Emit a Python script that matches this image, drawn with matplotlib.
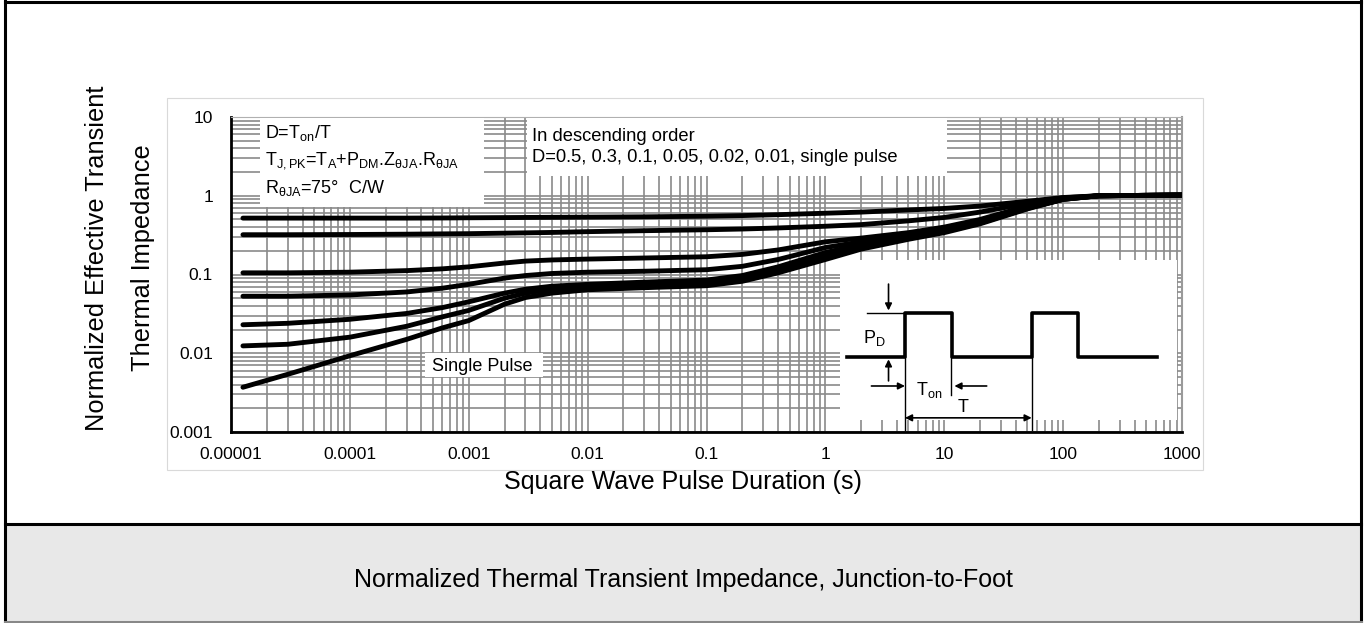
import numpy as np
import matplotlib.pyplot as plt
from matplotlib.patches import Rectangle
from matplotlib.lines import Line2D
from matplotlib.ticker import FixedLocator, LogLocator, NullFormatter

plt.rcParams['font.family'] = ['Liberation Sans', 'DejaVu Sans']
plt.rcParams['mathtext.fontset'] = 'custom'
plt.rcParams['mathtext.rm'] = 'Liberation Sans'
plt.rcParams['mathtext.it'] = 'Liberation Sans:italic'
plt.rcParams['mathtext.default'] = 'regular'

pulse_t = [1.26e-5, 3e-5, 1e-4, 3e-4, 6e-4, 1e-3, 2e-3, 3e-3, 5e-3, 1e-2, 3e-2, 0.1, 0.2, 0.4,
           1, 2, 5, 10, 20, 50, 100, 200, 1000]

# normalized transient impedance, one list per duty cycle (descending order)
z_d050 = [0.52, 0.52, 0.52, 0.52, 0.522, 0.525, 0.528, 0.53, 0.532, 0.535, 0.54, 0.55, 0.56, 0.575,
          0.60, 0.62, 0.66, 0.69, 0.74, 0.85, 0.95, 1.0, 1.02]
z_d030 = [0.32, 0.32, 0.322, 0.325, 0.328, 0.33, 0.335, 0.338, 0.342, 0.35, 0.36, 0.37, 0.378, 0.39,
          0.41, 0.43, 0.48, 0.53, 0.62, 0.80, 0.94, 1.0, 1.02]
z_d010 = [0.105, 0.105, 0.107, 0.112, 0.118, 0.125, 0.14, 0.148, 0.153, 0.157, 0.162, 0.168, 0.18, 0.205,
          0.26, 0.29, 0.34, 0.40, 0.50, 0.74, 0.92, 1.0, 1.02]
z_d005 = [0.053, 0.053, 0.055, 0.06, 0.067, 0.075, 0.09, 0.097, 0.103, 0.107, 0.11, 0.115, 0.127, 0.155,
          0.22, 0.26, 0.32, 0.38, 0.48, 0.72, 0.91, 1.0, 1.02]
z_d002 = [0.023, 0.024, 0.027, 0.032, 0.038, 0.045, 0.058, 0.065, 0.071, 0.075, 0.08, 0.085, 0.097, 0.125,
          0.19, 0.24, 0.30, 0.36, 0.46, 0.70, 0.90, 1.0, 1.02]
z_d001 = [0.0124, 0.013, 0.016, 0.022, 0.029, 0.035, 0.05, 0.058, 0.065, 0.07, 0.074, 0.078, 0.09, 0.115,
          0.17, 0.225, 0.29, 0.35, 0.45, 0.69, 0.90, 1.0, 1.02]
z_single = [0.0037, 0.0054, 0.0093, 0.015, 0.021, 0.026, 0.042, 0.051, 0.058, 0.064, 0.068, 0.072, 0.082, 0.105,
            0.155, 0.21, 0.28, 0.34, 0.44, 0.68, 0.90, 1.0, 1.02]

x_ticks = [1e-5, 1e-4, 1e-3, 1e-2, 1e-1, 1, 10, 100, 1000]
x_labels = ['0.00001', '0.0001', '0.001', '0.01', '0.1', '1', '10', '100', '1000']
y_ticks = [0.001, 0.01, 0.1, 1, 10]
y_labels = ['0.001', '0.01', '0.1', '1', '10']

# duty-cycle waveform sketch for the inset (time in units of T, power in units of P)
wave_t = [-0.46, 0, 0, 0.368, 0.368, 1, 1, 1.368, 1.368, 1.987]
wave_p = [0, 0, 1, 1, 0, 0, 1, 1, 0, 0]

W, H = 1367, 623


def fx(px):
    return px / W


def fy(py):
    return 1 - py / H


fig = plt.figure(figsize=(W / 100, H / 100), dpi=100)

# page frame and caption band
fig.add_artist(Rectangle((fx(5), 0), fx(1361) - fx(5), fy(524), transform=fig.transFigure,
                         facecolor='#e8e8e8', edgecolor='none'))
for xs, ys, c in [([5, 5], [0, 623], 'black'), ([1361, 1361], [0, 623], 'black'),
                  ([5, 1361], [1.5, 1.5], 'black'), ([5, 1361], [524, 524], 'black'),
                  ([5, 1361], [621.5, 621.5], '#888888')]:
    fig.add_artist(Line2D([fx(v) for v in xs], [fy(v) for v in ys], transform=fig.transFigure,
                          color=c, lw=2.2))
fig.add_artist(Rectangle((fx(167), fy(470)), (1203 - 167) / W, (470 - 98) / H, transform=fig.transFigure,
                         facecolor='none', edgecolor='#d9d9d9', lw=0.8))

ax = fig.add_axes([fx(231), fy(432), (1182 - 231) / W, (432 - 117) / H])
ax.set_xscale('log')
ax.set_yscale('log')
ax.set_xlim(1e-5, 1e3)
ax.set_ylim(1e-3, 10)
ax.xaxis.set_major_locator(FixedLocator(x_ticks))
ax.set_xticklabels(x_labels)
ax.yaxis.set_major_locator(FixedLocator(y_ticks))
ax.set_yticklabels(y_labels)
for a in (ax.xaxis, ax.yaxis):
    a.set_minor_locator(LogLocator(base=10, subs=np.arange(2, 10), numticks=100))
    a.set_minor_formatter(NullFormatter())
ax.grid(True, which='both', color='#8a8a8a', lw=1.2)
ax.tick_params(which='both', length=0)
ax.tick_params(axis='x', pad=11, labelsize=12.5)
ax.tick_params(axis='y', pad=13, labelsize=12.5)
ax.spines['left'].set_linewidth(2)
ax.spines['bottom'].set_linewidth(2)
ax.spines['top'].set_color('#b0b0b0')
ax.spines['right'].set_color('#9a9a9a')
ax.spines['right'].set_linewidth(1.5)

for z in [z_d050, z_d030, z_d010, z_d005, z_d002, z_d001, z_single]:
    ax.plot(pulse_t, z, color='black', lw=3.5, solid_capstyle='round', solid_joinstyle='round', zorder=4)

# white note boxes laid over the grid
for (x0, y0, w, h) in [(0.0305, 0.714, 0.236, 0.283), (0.311, 0.813, 0.442, 0.184), (0.204, 0.175, 0.124, 0.076)]:
    ax.add_patch(Rectangle((x0, y0), w, h, transform=ax.transAxes, facecolor='white', edgecolor='none', zorder=3))

ax.text(0.036, 0.949, 'D=T$_{on}$/T', transform=ax.transAxes, fontsize=13, va='center', zorder=5)
ax.text(0.036, 0.863, r'T$_{J,PK}$=T$_{A}$+P$_{DM}$.Z$_{\theta JA}$.R$_{\theta JA}$', transform=ax.transAxes,
        fontsize=13, va='center', zorder=5)
ax.text(0.036, 0.775, r'R$_{\theta JA}$=75°  C/W', transform=ax.transAxes, fontsize=13, va='center', zorder=5)
ax.text(0.3165, 0.937, 'In descending order', transform=ax.transAxes, fontsize=13.2, va='center', zorder=5)
ax.text(0.3165, 0.870, 'D=0.5, 0.3, 0.1, 0.05, 0.02, 0.01, single pulse', transform=ax.transAxes,
        fontsize=13.2, va='center', zorder=5)
ax.text(0.211, 0.2095, 'Single Pulse', transform=ax.transAxes, fontsize=13, va='center', zorder=5)

# inset with the pulse train sketch
axi = fig.add_axes([fx(840), fy(420), (1177 - 840) / W, (420 - 260) / H])
axi.set_xlim(-0.513, 2.147)
axi.set_ylim(-1.439, 2.198)
axi.set_xticks([])
axi.set_yticks([])
for s in axi.spines.values():
    s.set_visible(False)
axi.plot(wave_t, wave_p, color='black', lw=2.6)
axi.plot([-0.30, 0], [1, 1], color='black', lw=1)
for t, p in [(0, -1.67), (0.36, -0.87), (1, -1.67)]:
    axi.plot([t, t], [0, p], color='black', lw=1, clip_on=False)
arr = dict(arrowstyle='-|>', color='black', lw=1.2, mutation_scale=10, shrinkA=0, shrinkB=0)
axi.annotate('', xy=(-0.13, 1.05), xytext=(-0.13, 1.65), arrowprops=arr)
axi.annotate('', xy=(-0.13, -0.06), xytext=(-0.13, -0.55), arrowprops=arr)
axi.annotate('', xy=(0, -0.666), xytext=(-0.265, -0.666), arrowprops=arr)
axi.annotate('', xy=(0.39, -0.666), xytext=(0.645, -0.666), arrowprops=arr)
axi.annotate('', xy=(1, -1.39), xytext=(0, -1.39),
             arrowprops=dict(arrowstyle='<|-|>', color='black', lw=1.2, mutation_scale=10, shrinkA=0, shrinkB=0))
axi.text(-0.24, 0.43, 'P$_D$', fontsize=13, ha='center', va='center')
axi.text(0.09, -0.76, 'T$_{on}$', fontsize=13, ha='left', va='center')
axi.text(0.46, -1.16, 'T', fontsize=13, ha='center', va='center')

fig.text(fx(97), fy(258), 'Normalized Effective Transient', rotation=90, ha='center', va='center', fontsize=18.3)
fig.text(fx(143), fy(258), 'Thermal Impedance', rotation=90, ha='center', va='center', fontsize=18.3)
fig.text(fx(683), fy(482), 'Square Wave Pulse Duration (s)', ha='center', va='center', fontsize=18)
fig.text(fx(683), fy(580), 'Normalized Thermal Transient Impedance, Junction-to-Foot', ha='center', va='center',
         fontsize=18)

fig.savefig('out.png', dpi=100)
